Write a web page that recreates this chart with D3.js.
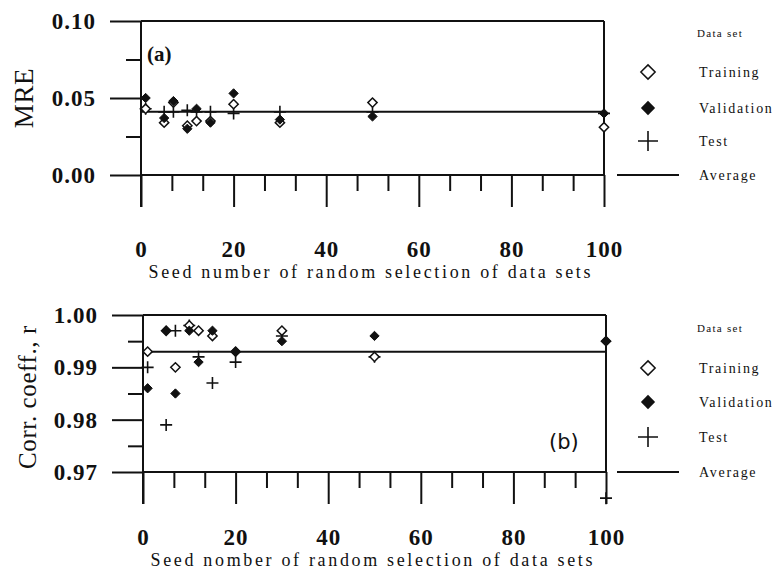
<!DOCTYPE html>
<html>
<head>
<meta charset="utf-8">
<script src="https://cdn.jsdelivr.net/npm/d3@7"></script>
<style>
  body { margin: 0; background: #fff; }
  svg { display: block; }
  .tick text { font-family: "Liberation Serif", serif; font-weight: bold; font-size: 23px; letter-spacing: 1px; fill: #111; }
  .tick line { stroke: #111; stroke-width: 2; }
  .legend text { font-family: "Liberation Serif", serif; fill: #111; }
</style>
</head>
<body>
<svg id="chart" width="783" height="580"></svg>
<script>
// seed numbers used for the random split
const seeds = [1, 5, 7, 10, 12, 15, 20, 30, 50, 100];

// (a) mean relative error
const mreTraining   = [0.043, 0.034, 0.047, 0.032, 0.035, 0.035, 0.046, 0.034, 0.047, 0.031];
const mreValidation = [0.050, 0.037, 0.048, 0.030, 0.043, 0.034, 0.053, 0.036, 0.038, 0.040];
const mreTest       = [0.043, 0.041, 0.041, 0.042, 0.041, 0.041, 0.040, 0.041, 0.041, 0.040];
const mreAverage = 0.041;

// (b) correlation coefficient
const rTraining   = [0.993, 0.997, 0.990, 0.998, 0.997, 0.996, 0.993, 0.997, 0.992, 0.995];
const rValidation = [0.986, 0.997, 0.985, 0.997, 0.991, 0.997, 0.993, 0.995, 0.996, 0.995];
const rTest       = [0.990, 0.979, 0.997, 0.998, 0.992, 0.987, 0.991, 0.996, 0.992, 0.965];
const rAverage = 0.993;

const xMajorTicks = [0, 20, 40, 60, 80, 100];
const mreMajorTicks = [0, 0.05, 0.10];
const mreMinorTicks = [0.025, 0.075];
const rMajorTicks = [0.97, 0.98, 0.99, 1.00];
const rMinorTicks = [0.975, 0.985, 0.995];

const legendLabels = ["Training", "Validation", "Test", "Average"];
const xTitle = ["Seed number of random selection of data sets", "Seed nomber of random selection of data sets"];

const svg = d3.select("#chart");

function zip(vals) {
    return seeds.map((s, i) => ({ x: s, y: vals[i] }));
}

function drawPanel(opt) {
    const g = svg.append("g");
    const x = d3.scaleLinear().domain([0, 100]).range(opt.xRange);
    const y = d3.scaleLinear().domain(opt.yDomain).range(opt.yRange);
    const x0 = x(0), x1 = x(100), yb = y.range()[0], yt = y.range()[1];

    // minor x ticks (every 20/3)
    const xMinor = d3.range(0, 100.01, 20 / 3).filter(v => Math.abs(v / 20 - Math.round(v / 20)) > 0.01);
    g.append("g").attr("transform", `translate(0,${yb})`)
        .call(d3.axisBottom(x).tickValues(xMinor).tickSize(16).tickFormat(""))
        .call(a => a.select(".domain").remove());
    g.append("g").attr("transform", `translate(0,${yb})`)
        .call(d3.axisBottom(x).tickValues(xMajorTicks).tickSize(32).tickPadding(opt.xPad).tickFormat(d3.format("d")))
        .call(a => a.select(".domain").remove());

    g.append("g").attr("transform", `translate(${x0},0)`)
        .call(d3.axisLeft(y).tickValues(opt.yMinor).tickSize(15).tickFormat(""))
        .call(a => a.select(".domain").remove());
    g.append("g").attr("transform", `translate(${x0},0)`)
        .call(d3.axisLeft(y).tickValues(opt.yMajor).tickSize(31).tickPadding(14).tickFormat(d3.format(".2f")))
        .call(a => a.select(".domain").remove());

    // frame
    const frame = [[x0, yt, x1, yt], [x1, yt, x1, yb], [x0, yb, x1, yb], [x0, yt, x0, yb + 32]];
    g.selectAll("line.frame").data(frame).enter().append("line")
        .attr("x1", d => d[0]).attr("y1", d => d[1]).attr("x2", d => d[2]).attr("y2", d => d[3])
        .attr("stroke", "#111").attr("stroke-width", 2);

    // average line
    g.append("line")
        .attr("x1", x0).attr("x2", x1)
        .attr("y1", y(opt.avg)).attr("y2", y(opt.avg))
        .attr("stroke", "#111").attr("stroke-width", 2);

    const diamond = d3.symbol().type(d3.symbolDiamond2).size(55);
    const plus = s => `M${-s},0H${s}M0,${-s}V${s}`;

    // test (+)
    g.selectAll("path.test").data(zip(opt.test)).enter().append("path")
        .attr("d", plus(6))
        .attr("transform", d => `translate(${x(d.x)},${y(d.y)})`)
        .attr("fill", "none").attr("stroke", "#111").attr("stroke-width", 1.6);
    // training (open diamond)
    g.selectAll("path.train").data(zip(opt.training)).enter().append("path")
        .attr("d", diamond)
        .attr("transform", d => `translate(${x(d.x)},${y(d.y)})`)
        .attr("fill", "#fff").attr("stroke", "#111").attr("stroke-width", 1.5);
    // validation (filled diamond)
    g.selectAll("path.valid").data(zip(opt.validation)).enter().append("path")
        .attr("d", diamond)
        .attr("transform", d => `translate(${x(d.x)},${y(d.y)})`)
        .attr("fill", "#111").attr("stroke", "#111").attr("stroke-width", 1);

    // axis titles
    g.append("text")
        .attr("x", (x0 + x1) / 2 - 3).attr("y", opt.xTitleY)
        .attr("text-anchor", "middle")
        .attr("textLength", 442).attr("lengthAdjust", "spacing")
        .style("font-family", "Liberation Serif, serif").style("font-size", "18px").style("fill", "#111")
        .text(opt.xTitle);
    g.append("text")
        .attr("transform", `translate(${opt.yTitleX},${opt.yTitleY}) rotate(-90)`)
        .attr("text-anchor", "middle")
        .style("font-family", "Liberation Serif, serif").style("font-size", opt.yTitleSize)
        .style("letter-spacing", "0.6px").style("fill", "#111")
        .text(opt.yTitle);

    // panel label
    g.append("text")
        .attr("x", opt.tagX).attr("y", opt.tagY)
        .style("font-family", opt.tagFont).style("font-weight", opt.tagWeight)
        .style("font-size", "21px").style("fill", "#111")
        .text(opt.tag);

    // legend
    const lg = g.append("g").attr("class", "legend");
    lg.append("text").attr("x", 697).attr("y", opt.legY[0]).attr("dy", "0.35em")
        .style("font-size", "11px").style("letter-spacing", "1.3px").text("Data set");
    const bigDiamond = d3.symbol().type(d3.symbolDiamond2).size(130);
    lg.append("path").attr("d", bigDiamond).attr("transform", `translate(648,${opt.legY[1]})`)
        .attr("fill", "#fff").attr("stroke", "#111").attr("stroke-width", 1.5);
    lg.append("path").attr("d", bigDiamond).attr("transform", `translate(648,${opt.legY[2]})`)
        .attr("fill", "#111");
    lg.append("path").attr("d", plus(10)).attr("transform", `translate(648,${opt.legY[3]})`)
        .attr("stroke", "#111").attr("stroke-width", 1.6).attr("fill", "none");
    lg.append("line").attr("x1", 617).attr("x2", 679).attr("y1", opt.legY[4]).attr("y2", opt.legY[4])
        .attr("stroke", "#111").attr("stroke-width", 2);
    lg.selectAll("text.item").data(legendLabels).enter().append("text")
        .attr("x", 699).attr("y", (d, i) => opt.legY[i + 1]).attr("dy", "0.35em")
        .style("font-size", "14px").style("letter-spacing", "1.7px")
        .text(d => d);
}

drawPanel({
    xRange: [141, 604], yDomain: [0, 0.10], yRange: [175, 21],
    yMajor: mreMajorTicks, yMinor: mreMinorTicks, xPad: 34,
    training: mreTraining, validation: mreValidation, test: mreTest, avg: mreAverage,
    xTitle: xTitle[0], xTitleY: 278,
    yTitle: "MRE", yTitleX: 33, yTitleY: 98, yTitleSize: "27px",
    tag: "(a)", tagX: 147, tagY: 61, tagFont: "Liberation Serif, serif", tagWeight: "bold",
    legY: [33, 72, 108, 141, 175]
});

drawPanel({
    xRange: [143, 606], yDomain: [0.97, 1.00], yRange: [472, 315],
    yMajor: rMajorTicks, yMinor: rMinorTicks, xPad: 25,
    training: rTraining, validation: rValidation, test: rTest, avg: rAverage,
    xTitle: xTitle[1], xTitleY: 566,
    yTitle: "Corr. coeff., r", yTitleX: 36, yTitleY: 397, yTitleSize: "25px",
    tag: "(b)", tagX: 549, tagY: 449, tagFont: "DejaVu Sans, sans-serif", tagWeight: "normal",
    legY: [328, 368, 402, 437, 472]
});
</script>
</body>
</html>
